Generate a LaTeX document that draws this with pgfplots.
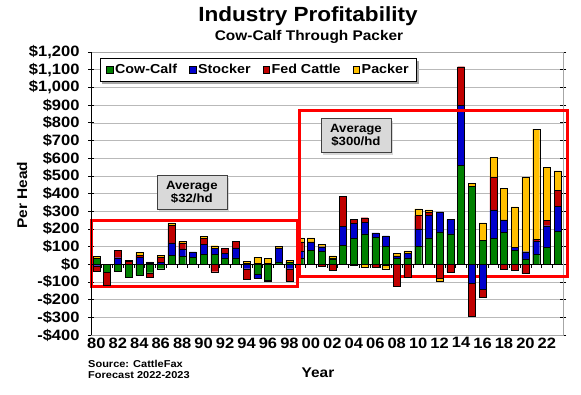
\documentclass[border=0pt]{standalone}
\usepackage{fontspec}
\setmainfont{Liberation Sans}[FakeStretch=1.1]
\usepackage{pgfplots}
\pgfplotsset{compat=1.18}
\usepackage{pgfplotstable}
\usetikzlibrary{shadows}
\pgfdeclarelayer{background}
\pgfsetlayers{background,main}

\definecolor{ccgreen}{RGB}{0,128,0}
\definecolor{stblue}{RGB}{0,0,204}
\definecolor{fcred}{RGB}{192,0,0}
\definecolor{pkyellow}{RGB}{255,192,0}

\pgfplotstableread{
year cc st fc pk
1980 32 -8 -30 12
1981 -45 0 -72 0
1982 -40 37 40 0
1983 -72 0 18 6
1984 -62 38 12 18
1985 -48 8 -25 6
1986 -25 12 30 8
1987 49 72 98 15
1988 45 42 34 9
1989 38 32 0 0
1990 55 57 34 13
1991 55 35 -42 15
1992 32 30 29 0
1993 36 57 38 0
1994 5 -25 -62 12
1995 -57 -22 5 35
1996 -92 5 -3 30
1997 13 80 0 9
1998 12 -25 -70 12
1999 36 38 53 22
2000 77 49 0 23
2001 74 25 -10 15
2002 30 5 -35 12
2003 106 109 170 0
2004 145 85 23 -5
2005 172 66 25 -15
2006 153 25 -17 0
2007 100 60 -5 -20
2008 35 12 -125 16
2009 36 25 -75 15
2010 102 98 75 38
2011 149 128 19 11
2012 183 113 -77 -19
2013 172 81 -45 0
2014 558 342 217 0
2015 442 -106 -189 15
2016 136 -143 -42 98
2017 147 160 187 110
2018 180 71 -29 177
2019 78 16 -32 231
2020 31 40 -53 421
2021 55 75 11 623
2022 96 122 29 302
2023 185 141 92 110
}\data

\pgfplotsset{
  frame/.style={
    scale only axis, width=472pt, height=283pt,
    at={(91pt,59pt)}, anchor=south west,
    xmin=1979.5, xmax=2023.5, ymin=-400, ymax=1200,
  },
  base/.style={frame,
    ybar stacked, bar width=0.65,
    every axis plot/.append style={draw=black, line width=0.3pt},
  },
}

\begin{document}
\begin{tikzpicture}
\path[use as bounding box] (0,0) rectangle (581pt,394pt);
\begin{axis}[base,
  axis line style={gray!70},
  ytick={-400,-300,...,1200},
  yticklabels={{-\$400},{-\$300},{-\$200},{-\$100},{\$0},{\$100},{\$200},{\$300},{\$400},{\$500},{\$600},{\$700},{\$800},{\$900},{\$1,000},{\$1,100},{\$1,200}},
  xtick={1980,1982,...,2022},
  xticklabels={80,82,84,86,88,90,92,94,96,98,00,02,04,06,08,10,12,14,16,18,20,22},
  ticklabel style={font=\bfseries\fontsize{15}{15}\selectfont},
  xticklabel style={inner xsep=0pt, yshift=1pt},
  yticklabel style={xshift=-5pt},
  xtick style={draw=none},
  ytick style={black, line width=0.6pt},
  ytick align=center, major tick length=6pt,
  ymajorgrids, grid style={gray!55, line width=0.5pt},
]
\addplot[fill=ccgreen] table[x=year, y expr={max(\thisrow{cc},0)}] {\data};
\addplot[fill=stblue] table[x=year, y expr={max(\thisrow{st},0)}] {\data};
\addplot[fill=fcred] table[x=year, y expr={max(\thisrow{fc},0)}] {\data};
\addplot[fill=pkyellow] table[x=year, y expr={max(\thisrow{pk},0)}] {\data};
\end{axis}
\begin{axis}[base, hide axis, clip=false]
\addplot[fill=ccgreen] table[x=year, y expr={min(\thisrow{cc},0)}] {\data};
\addplot[fill=stblue] table[x=year, y expr={min(\thisrow{st},0)}] {\data};
\addplot[fill=fcred] table[x=year, y expr={min(\thisrow{fc},0)}] {\data};
\addplot[fill=pkyellow] table[x=year, y expr={min(\thisrow{pk},0)}] {\data};
\draw[black, line width=0.9pt] (axis cs:1979.5,-400) -- (axis cs:1979.5,1200);
\draw[black, line width=0.9pt] (axis cs:1979.5,0) -- (axis cs:2023.5,0);
\pgfplotsinvokeforeach{1980.5,1981.5,...,2022.5}{\draw[black, line width=0.6pt] (axis cs:#1,0) -- ++(0pt,-3.5pt);}
\draw[red, line width=3pt] (axis cs:1979.5,-128) rectangle (axis cs:1998.75,249);
\draw[red, line width=3pt] (axis cs:1998.95,-68) rectangle (axis cs:2023.9,868);
\node[fill=gray!30, draw=gray!50!black, drop shadow={shadow xshift=2pt, shadow yshift=-2pt, fill=gray!60}, align=center,
  font=\bfseries\fontsize{12}{13}\selectfont, minimum width=70pt, minimum height=34pt, inner sep=2pt]
  at (axis cs:1988.9,405) {Average\\\$32/hd};
\node[fill=gray!30, draw=gray!50!black, drop shadow={shadow xshift=2pt, shadow yshift=-2pt, fill=gray!60}, align=center,
  font=\bfseries\fontsize{12}{13}\selectfont, minimum width=70pt, minimum height=34pt, inner sep=2pt]
  at (axis cs:2004.2,727) {Average\\\$300/hd};
\end{axis}
\begin{axis}[frame, hide axis,
  legend style={at={(0.019,0.978)}, anchor=north west, draw=black, fill=white,
    legend columns=4, font=\bfseries\fontsize{13}{14}\selectfont, name=leg,
    /tikz/every even column/.append style={column sep=10pt},
    inner xsep=6pt, inner ysep=4pt},
  legend image code/.code={\draw[#1,draw=black,line width=0.4pt] (0pt,-3.3pt) rectangle (6.6pt,3.3pt);},
]
\addlegendimage{fill=ccgreen}
\addlegendentry{Cow-Calf}
\addlegendimage{fill=stblue}
\addlegendentry{Stocker}
\addlegendimage{fill=fcred}
\addlegendentry{Fed Cattle}
\addlegendimage{fill=pkyellow}
\addlegendentry{Packer}
\end{axis}
\begin{pgfonlayer}{background}
\fill[gray!70] ([shift={(2.5pt,-2.5pt)}]leg.south west) rectangle ([shift={(2.5pt,-2.5pt)}]leg.north east);
\end{pgfonlayer}
\node[font=\bfseries\fontsize{20.5}{21}\selectfont] at (308pt,378pt) {Industry Profitability};
\node[font=\bfseries\fontsize{14}{15}\selectfont] at (309pt,357pt) {Cow-Calf Through Packer};
\node[rotate=90, font=\bfseries\fontsize{14}{15}\selectfont] at (22pt,199pt) {Per Head};
\node[font=\bfseries\fontsize{14}{15}\selectfont] at (318pt,21pt) {Year};
\node[anchor=north west, align=left, inner sep=0pt, font=\bfseries\fontsize{10}{11}\selectfont] at (88pt,34pt) {Source: CattleFax\\Forecast 2022-2023};
\end{tikzpicture}
\end{document}
